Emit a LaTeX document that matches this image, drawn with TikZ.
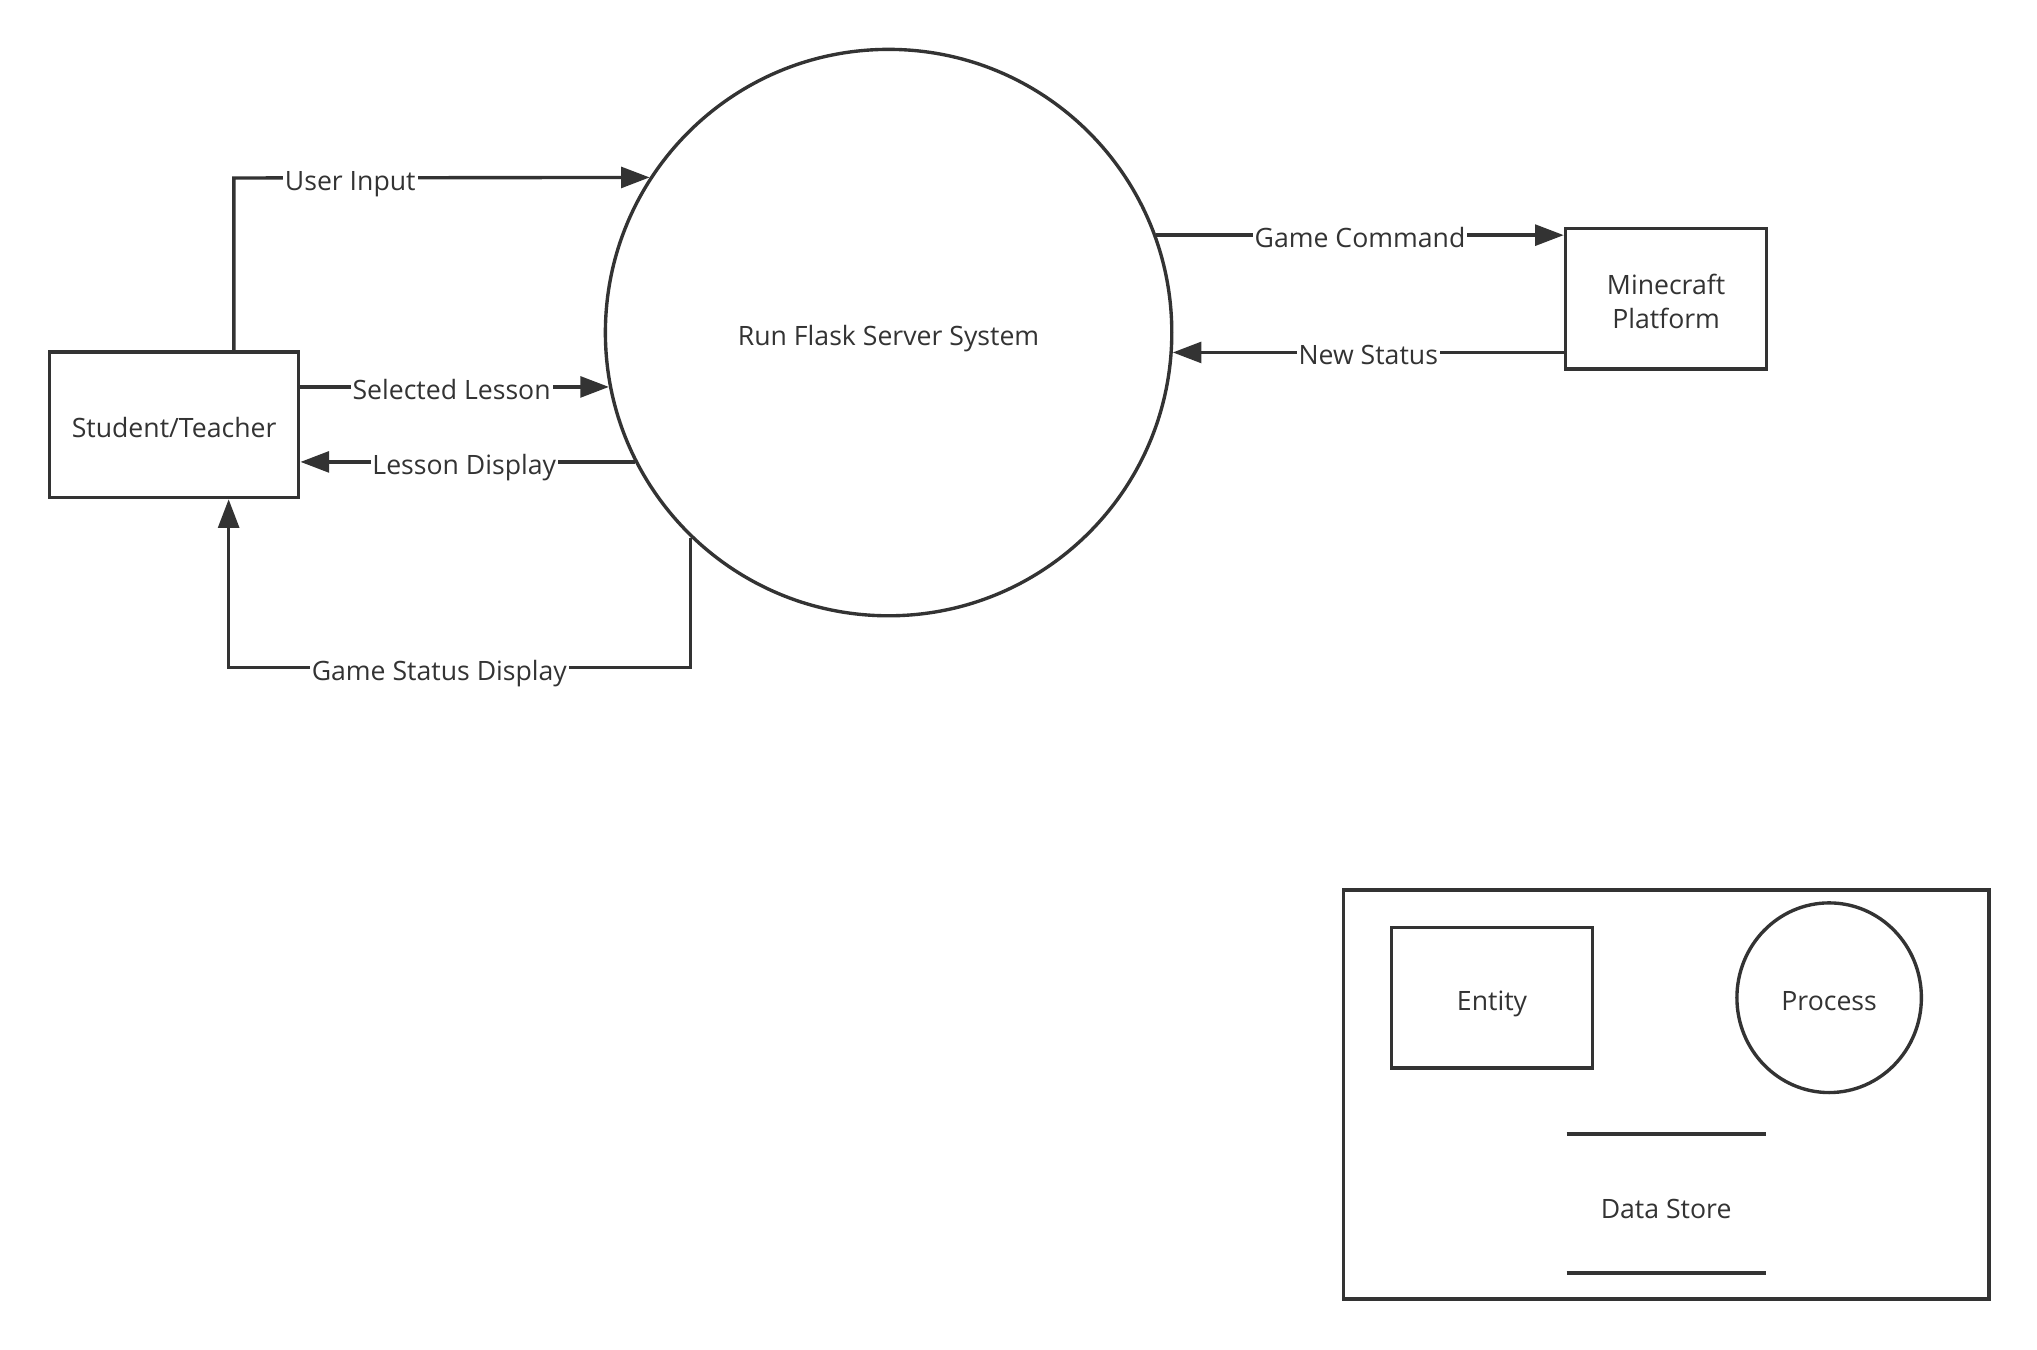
\documentclass[tikz,border=0pt]{standalone}
\usepackage{fontspec}
\setmainfont{Open Sans}
\usetikzlibrary{arrows.meta,shapes.geometric,calc}
\definecolor{ink}{HTML}{333333}
\tikzset{
  ln/.style={draw=ink, line width=2.6pt},
  flow/.style={ln, -{Triangle[length=22pt,width=16pt]}},
  txt/.style={text=ink, font=\fontsize{20.5}{25.5}\selectfont},
  capc/.style={text height=19.6pt, text depth=0pt},
  lcapc/.style={text height=19pt, text depth=0pt},
  entity/.style={ln, txt, rectangle, inner sep=0pt, align=center},
  proc/.style={ln, txt, circle, inner sep=0pt, capc},
  lbl/.style={txt, lcapc, fill=white, inner xsep=1.5pt, inner ysep=1pt}
}
\begin{document}
\begin{tikzpicture}[x=1pt,y=-1pt]
\useasboundingbox[fill=white] (0,0) rectangle (1568,1039);
% main nodes
\node[entity, capc, minimum width=192pt, minimum height=112pt] (st) at (134,327) {Student/Teacher};
\node[proc, minimum size=436pt] (fl) at (684,256) {Run Flask Server System};
\node[entity, minimum width=155pt, minimum height=108pt,
      label={[txt, align=center, yshift=-2pt]center:Minecraft\\Platform}] (mc) at (1282.5,230) {};
% connectors
\coordinate (ui) at (180,137);
\draw[flow] (st.north -| ui) -- (ui) -- node[lbl, pos=0.28] {User Input} (fl.147);
\draw[flow] (st.east |- fl.191) -- node[lbl, pos=0.49] {Selected Lesson} (fl.191);
\draw[flow] (fl.207) -- node[lbl, pos=0.51] {Lesson Display} (st.east |- fl.207);
\coordinate (gs) at (176,514);
\draw[flow] (fl.226) |- node[lbl, pos=0.772] {Game Status Display} (gs) -- (gs |- st.south);
\draw[flow] (fl.20) -- node[lbl, pos=0.5] {Game Command} (mc.west |- fl.20);
\draw[flow] (mc.west |- fl.-4) -- node[lbl, pos=0.5] {New Status} (fl.-4);
% legend
\node[ln, rectangle, minimum width=497pt, minimum height=315pt, inner sep=0pt] (lg) at (1282.5,842.5) {};
\node[entity, capc, minimum width=155pt, minimum height=108pt] (en) at (1148.5,768) {Entity};
\node[ln, txt, capc, ellipse, inner sep=0pt, minimum width=142pt, minimum height=146pt] (pr) at (1408,768) {Process};
\coordinate (ds1) at (1206,873);
\coordinate (ds2) at (1359,873);
\coordinate (ds3) at (1206,980);
\coordinate (ds4) at (1359,980);
\draw[ln] (ds1) -- (ds2);
\draw[ln] (ds3) -- (ds4);
\node[txt, capc] (ds) at (1282.5,928) {Data Store};
\end{tikzpicture}
\end{document}
